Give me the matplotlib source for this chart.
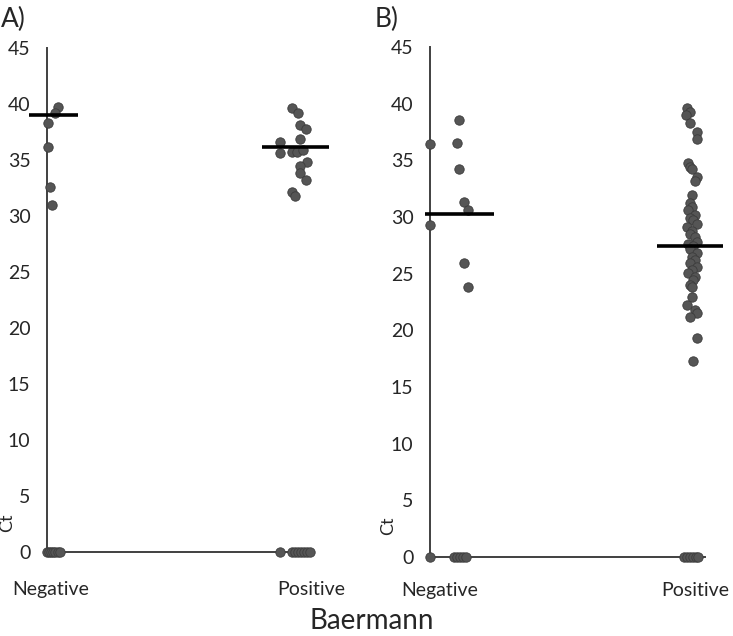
import matplotlib
matplotlib.use("Agg")
import matplotlib.pyplot as plt

plt.rcParams['font.family'] = ['Lato', 'DejaVu Sans']

#### Data ####
categories = ["Negative", "Positive"]
y_ticks = list(range(0, 46, 5))

# Panel A: Ct values (non-zero) and their jitter around the category
a_neg_ct = [39.7, 39.2, 38.3, 36.2, 32.6, 31.0]
a_neg_jit = [0.027, 0.015, -0.012, -0.012, -0.004, 0.004]
a_neg_zero_jit = [-0.015, -0.007, 0.001, 0.009, 0.017, 0.025, 0.033]

a_pos_ct = [39.6, 39.2, 38.1, 37.8, 36.9, 36.6, 35.6, 35.7, 35.7, 35.9,
            34.8, 34.5, 33.8, 33.2, 32.1, 31.8]
a_pos_jit = [-0.073, -0.050, -0.042, -0.019, -0.042, -0.119, -0.119, -0.073,
             -0.054, -0.031, -0.015, -0.042, -0.042, -0.019, -0.073, -0.062]
a_pos_zero_jit = [-0.12, -0.075, -0.063, -0.051, -0.039, -0.027, -0.015, -0.005]

a_median = [39.0, 36.2]

# Panel B
b_neg_ct = [36.4, 38.6, 36.5, 34.2, 31.3, 30.6, 29.3, 25.9, 23.8]
b_neg_jit = [-0.039, 0.075, 0.067, 0.075, 0.094, 0.110, -0.039, 0.094, 0.110]
b_neg_zero_jit = [-0.039, 0.055, 0.067, 0.079, 0.091, 0.103]

b_pos_ct = [39.6, 39.3, 39.0, 38.3, 37.5, 36.9, 34.8, 34.4, 34.2, 33.5,
            33.2, 31.9, 31.2, 30.9, 30.6, 30.2, 29.9, 29.7, 29.4, 29.1,
            28.8, 28.5, 28.2, 27.8, 27.6, 27.4, 27.2, 26.8, 26.5, 26.2,
            25.9, 25.6, 25.3, 25.1, 24.7, 24.4, 24.0, 23.8, 22.9, 22.2,
            21.8, 21.5, 21.2, 19.3, 17.3]
b_pos_px = [687, 690, 686, 690, 697, 697, 688, 690, 692, 697,
            695, 692, 690, 692, 688, 695, 690, 693, 697, 687,
            692, 690, 695, 697, 688, 693, 690, 697, 692, 695,
            690, 697, 692, 688, 695, 693, 690, 692, 692, 687,
            695, 697, 690, 697, 693]
b_pos_jit = [(p - 695) / 255 for p in b_pos_px]
b_pos_zero_jit = [-0.045, -0.033, -0.021, -0.009, 0.003, 0.013]

b_median = [30.3, 27.4]

#######################################

DOT = dict(s=46, facecolor='#555555', edgecolor='#3c3c3c', linewidths=0.6,
           clip_on=False, zorder=4)
TEXT_COLOR = '#262626'
AXIS_COLOR = '#404040'

fig = plt.figure(figsize=(7.33, 6.36), dpi=100)
axA = fig.add_axes([25 / 733, 84 / 636, 312 / 733, 504 / 636])
axB = fig.add_axes([414.5 / 733, 79 / 636, 306 / 733, 510 / 636])


def draw_panel(ax, groups, medians, med_spans, axis_x, axis_end, label_pad):
    for i, (ct, jit, zjit) in enumerate(groups):
        xc = i + 1
        ax.scatter([xc + j for j in jit], ct, **DOT)
        ax.scatter([xc + j for j in zjit], [0] * len(zjit), **DOT)
    for m, (x0, x1) in zip(medians, med_spans):
        ax.hlines(m, x0, x1, color='black', lw=2.6, zorder=5, clip_on=False)

    ax.set_xlim(0.9, 2.1)
    ax.set_ylim(0, 45)
    for s in ['top', 'right']:
        ax.spines[s].set_visible(False)
    ax.spines['left'].set_position(('data', axis_x))
    ax.spines['bottom'].set_bounds(axis_x, axis_end)
    for s in ['left', 'bottom']:
        ax.spines[s].set_color(AXIS_COLOR)
        ax.spines[s].set_linewidth(1.4)
    ax.set_yticks(y_ticks)
    ax.set_xticks([1, 2])
    ax.set_xticklabels(categories)
    ax.tick_params(axis='y', length=0, pad=12, labelsize=14, labelcolor=TEXT_COLOR)
    ax.tick_params(axis='x', length=0, pad=label_pad, labelsize=14, labelcolor=TEXT_COLOR)
    ax.patch.set_alpha(0)


draw_panel(axA,
           [(a_neg_ct, a_neg_jit, a_neg_zero_jit), (a_pos_ct, a_pos_jit, a_pos_zero_jit)],
           a_median, [(0.915, 1.104), (1.81, 2.07)], 0.985, 2.0, 21)
draw_panel(axB,
           [(b_neg_ct, b_neg_jit, b_neg_zero_jit), (b_pos_ct, b_pos_jit, b_pos_zero_jit)],
           b_median, [(0.94, 1.21), (1.85, 2.11)], 0.961, 2.04, 18)

fig.text(7 / 733, 1 - 523 / 636, "Ct", rotation=90, ha='center', va='center',
         fontsize=13, color=TEXT_COLOR)
fig.text(388 / 733, 1 - 526 / 636, "Ct", rotation=90, ha='center', va='center',
         fontsize=13, color=TEXT_COLOR)
fig.text(1 / 733, 1 - 19 / 636, "A)", ha='left', va='center', fontsize=19, color=TEXT_COLOR)
fig.text(375 / 733, 1 - 19 / 636, "B)", ha='left', va='center', fontsize=19, color=TEXT_COLOR)
fig.text(372 / 733, 1 - 621 / 636, "Baermann", ha='center', va='center',
         fontsize=20, color=TEXT_COLOR)

fig.savefig("out.png", dpi=100)
